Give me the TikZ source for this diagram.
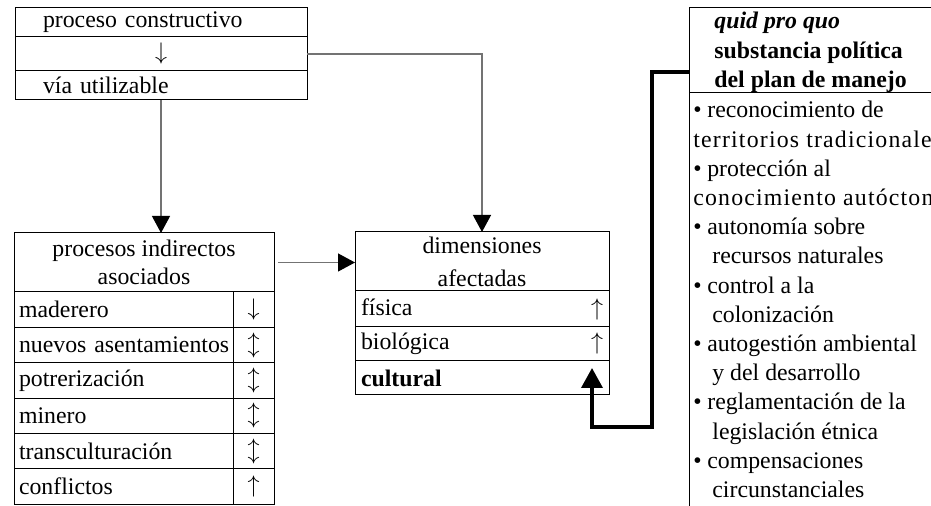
\documentclass[tikz,border=0pt]{standalone}
\usepackage{fontspec}
\setmainfont{Liberation Serif}
\usetikzlibrary{arrows.meta}

\begin{document}
\begin{tikzpicture}[x=0.5pt,y=-0.5pt,
    font=\fontsize{11.9}{14}\selectfont,
    caja/.style={draw,line width=0.5pt,anchor=north west,inner sep=0pt,outer sep=0pt},
    celdaizq/.style={caja,text width=104.5pt,inner xsep=2.5pt,minimum height=17.7pt,align=left},
    celdader/.style={caja,minimum width=20.5pt,minimum height=17.7pt},
    fila/.style={caja,text width=121pt,inner xsep=3pt,align=left},
    conector/.style={draw=black!55,line width=0.6pt,-{Triangle[width=9pt,length=8.5pt,color=black]}},
    grueso/.style={line width=1.8pt,-{Triangle[width=10.5pt,length=10pt]}}]
  \clip (0,0) rectangle (931,506);

  % proceso constructivo
  \node[caja,text width=118pt,inner xsep=14pt,minimum height=14.5pt,align=left] (pc) at (15,8) {proceso constructivo};
  \node[caja,minimum width=146pt,minimum height=17pt] (pf) at (15,37) {$\downarrow$};
  \node[caja,text width=118pt,inner xsep=14pt,minimum height=14.5pt,align=left] (via) at (15,71) {vía utilizable};

  % procesos indirectos
  \node[caja,minimum width=130pt,minimum height=29.5pt] (pih) at (14,233)
    {\parbox{109.5pt}{\centering\baselineskip=13.8pt procesos indirectos\\asociados}\hspace{20.5pt}};
  \node[celdaizq] (mad) at (14,292) {maderero};
  \node[celdader] (madf) at (233,292) {$\downarrow$};
  \node[celdaizq] (nue) at (14,327.4) {\mbox{nuevos asentamientos}};
  \node[celdader] (nuef) at (233,327.4) {$\updownarrow$};
  \node[celdaizq] (pot) at (14,362.8) {potrerización};
  \node[celdader] (potf) at (233,362.8) {$\updownarrow$};
  \node[celdaizq] (min) at (14,398.2) {minero};
  \node[celdader] (minf) at (233,398.2) {$\updownarrow$};
  \node[celdaizq] (tra) at (14,433.6) {transculturación};
  \node[celdader] (traf) at (233,433.6) {$\updownarrow$};
  \node[celdaizq] (con) at (14,469) {conflictos};
  \node[celdader] (conf) at (233,469) {$\uparrow$};

  % dimensiones afectadas
  \node[caja,minimum width=127pt,minimum height=29.5pt] (dimh) at (355,232)
    {\parbox{107pt}{\centering\baselineskip=16.5pt dimensiones\\afectadas}\hspace{20pt}};
  \node[fila,minimum height=18pt] (fis) at (355,291) {física\hfill$\uparrow$\hspace*{3pt}};
  \node[fila,minimum height=17pt] (bio) at (355,327) {biológica\hfill$\uparrow$\hspace*{3pt}};
  \node[fila,minimum height=17pt] (cul) at (355,361) {\textbf{cultural}};

  % quid pro quo
  \node[caja,minimum width=160pt,minimum height=42.5pt] (quid) at (689,8) {};
  \node[anchor=north west,align=left,inner sep=0pt,font=\fontsize{11.9}{14.75}\selectfont\bfseries] (quidtxt) at (714,12)
    {\textit{quid pro quo}\\substancia política\\del plan de manejo};
  \node[caja,minimum width=160pt,minimum height=220pt] (lista) at (689,93) {};
  \node[anchor=north west,align=left,inner sep=0pt,font=\fontsize{11.9}{14.6}\selectfont] (items) at (693,101)
    {\textbullet\hspace{2.8pt}reconocimiento de\\
     {\addfontfeature{LetterSpace=5}territorios tradicionales}\\
     \textbullet\hspace{2.8pt}protección al\\
     {\addfontfeature{LetterSpace=5}conocimiento autóctono}\\
     \textbullet\hspace{2.8pt}autonomía sobre\\
     \hspace*{9.5pt}recursos naturales\\
     \textbullet\hspace{2.8pt}control a la\\
     \hspace*{9.5pt}colonización\\
     \textbullet\hspace{2.8pt}autogestión ambiental\\
     \hspace*{9.5pt}y del desarrollo\\
     \textbullet\hspace{2.8pt}reglamentación de la\\
     \hspace*{9.5pt}legislación étnica\\
     \textbullet\hspace{2.8pt}compensaciones\\
     \hspace*{9.5pt}circunstanciales};

  % conectores
  \draw[conector] (pf.east) -| (dimh.north);
  \draw[conector] (via.south) -- (via.south |- pih.north);
  \draw[conector,shorten <=2pt] (pih.east) -- (pih.east -| dimh.west);
  \coordinate (salida) at (689,72);
  \coordinate (meta) at (592,368);
  \draw[grueso] (salida) -| (652,427) -| (meta);
\end{tikzpicture}
\end{document}
